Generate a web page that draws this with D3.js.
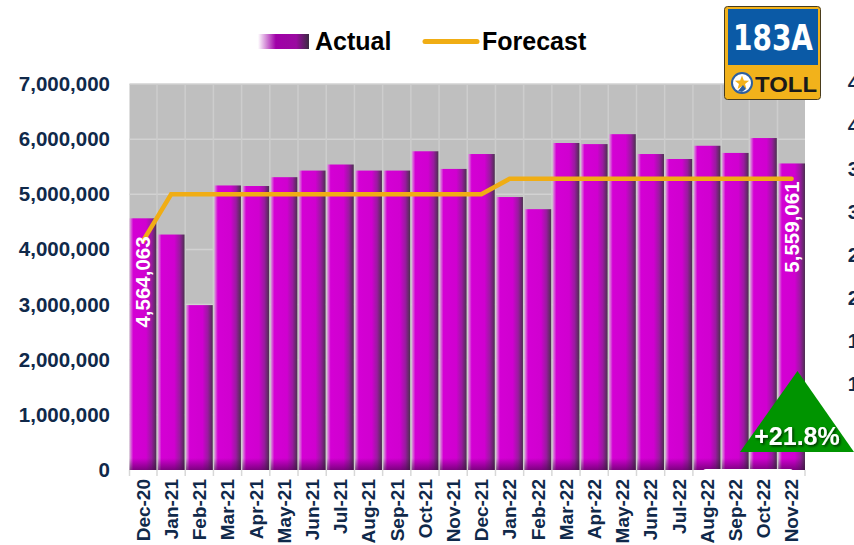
<!DOCTYPE html>
<html>
<head>
<meta charset="utf-8">
<script src="https://cdn.jsdelivr.net/npm/d3@7"></script>
<style>
  html, body { margin: 0; padding: 0; background: #fff; overflow: hidden; }
  svg { display: block; font-family: "Liberation Sans", Arial, sans-serif; }
</style>
</head>
<body>
<svg id="chart" width="854" height="545"></svg>
<script>
// Monthly transactions, 183A Toll
const categories = ["Dec-20","Jan-21","Feb-21","Mar-21","Apr-21","May-21","Jun-21","Jul-21",
  "Aug-21","Sep-21","Oct-21","Nov-21","Dec-21","Jan-22","Feb-22","Mar-22","Apr-22","May-22",
  "Jun-22","Jul-22","Aug-22","Sep-22","Oct-22","Nov-22"];
const actual = [4564063, 4270000, 2990000, 5160000, 5150000, 5310000, 5430000, 5540000,
  5430000, 5430000, 5780000, 5460000, 5730000, 4950000, 4730000, 5930000, 5910000, 6090000,
  5730000, 5640000, 5880000, 5750000, 6020000, 5559061];
const forecast = [4150000, 5000000, 5000000, 5000000, 5000000, 5000000, 5000000, 5000000,
  5000000, 5000000, 5000000, 5000000, 5000000, 5280000, 5280000, 5280000, 5280000, 5280000,
  5280000, 5280000, 5280000, 5280000, 5280000, 5280000];
const leftTicks = [0, 1000000, 2000000, 3000000, 4000000, 5000000, 6000000, 7000000];
const rightTicks = [500000, 1000000, 1500000, 2000000, 2500000, 3000000, 3500000, 4000000, 4500000];
const labelledIdx = [0, 23];
const changeText = "+21.8%";

const navy = "#10294a";
const gold = "#f0ad14";
const svg = d3.select("#chart");
const fmt = d3.format(",");

const plot = { left: 129.5, right: 805, top: 84, bottom: 470 };
const x = d3.scaleBand().domain(categories).range([plot.left, plot.right])
  .paddingInner(0.05).paddingOuter(0.0);
const y = d3.scaleLinear().domain([0, 7000000]).range([plot.bottom, plot.top]);
const y2 = d3.scaleLinear().domain([0, 4500000]).range([plot.bottom, 83]);

// gradients
const defs = svg.append("defs");
const barGrad = defs.append("linearGradient").attr("id", "barGrad")
  .attr("x1", 0).attr("x2", 1).attr("y1", 0).attr("y2", 0);
[["0%", "#d8b0d8"], ["6%", "#d860d8"], ["14%", "#d400d4"], ["62%", "#d000d0"],
 ["82%", "#9a1aa0"], ["100%", "#4c3050"]].forEach(([o, c]) =>
  barGrad.append("stop").attr("offset", o).attr("stop-color", c));
const baseGrad = defs.append("linearGradient").attr("id", "baseGrad")
  .attr("x1", 0).attr("x2", 0).attr("y1", 0).attr("y2", 1);
baseGrad.append("stop").attr("offset", "0%").attr("stop-color", "#3a0040").attr("stop-opacity", 0);
baseGrad.append("stop").attr("offset", "100%").attr("stop-color", "#3a0040").attr("stop-opacity", 0.55);
const legGrad = defs.append("linearGradient").attr("id", "legGrad")
  .attr("x1", 0).attr("x2", 1).attr("y1", 0).attr("y2", 0);
[["0%", "#ffffff"], ["35%", "#a000a8"], ["75%", "#9a0aa0"], ["100%", "#3a2a40"]].forEach(([o, c]) =>
  legGrad.append("stop").attr("offset", o).attr("stop-color", c));
const shadow = defs.append("filter").attr("id", "shadow")
  .attr("x", "-20%").attr("y", "-20%").attr("width", "140%").attr("height", "140%");
shadow.append("feDropShadow").attr("dx", 1.5).attr("dy", 1.5).attr("stdDeviation", 0.8)
  .attr("flood-color", "#000").attr("flood-opacity", 0.7);

// plot background and grid
svg.append("rect").attr("x", plot.left).attr("y", plot.top)
  .attr("width", plot.right - plot.left).attr("height", plot.bottom - plot.top)
  .attr("fill", "#bfbfbf");
svg.append("g").selectAll("line").data(leftTicks.slice(1))
  .join("line")
  .attr("x1", plot.left).attr("x2", plot.right)
  .attr("y1", d => y(d)).attr("y2", d => y(d))
  .attr("stroke", "#d2d2d2").attr("stroke-width", 1.5);
const bounds = categories.map(c => x(c) - x.step() * x.paddingInner() / 2).slice(1);
svg.append("g").selectAll("line").data(bounds)
  .join("line")
  .attr("x1", d => d).attr("x2", d => d)
  .attr("y1", plot.top).attr("y2", plot.bottom)
  .attr("stroke", "#cdcdcd").attr("stroke-width", 1.5);

// category ticks under the plot
svg.append("g").selectAll("line").data([plot.left, ...bounds, plot.right])
  .join("line")
  .attr("x1", d => d).attr("x2", d => d)
  .attr("y1", plot.bottom).attr("y2", plot.bottom + 6)
  .attr("stroke", "#d8d8d8").attr("stroke-width", 1.5);

// bars
const bars = svg.append("g");
bars.selectAll("rect.bar").data(actual).join("rect").attr("class", "bar")
  .attr("x", (d, i) => x(categories[i])).attr("width", x.bandwidth())
  .attr("y", d => y(d)).attr("height", d => plot.bottom - y(d))
  .attr("fill", "url(#barGrad)");
bars.selectAll("rect.base").data(actual).join("rect").attr("class", "base")
  .attr("x", (d, i) => x(categories[i])).attr("width", x.bandwidth())
  .attr("y", plot.bottom - 12).attr("height", 12)
  .attr("fill", "url(#baseGrad)");

// forecast line
const line = d3.line().x((d, i) => x(categories[i]) + x.bandwidth() / 2).y(d => y(d));
svg.append("path").datum(forecast).attr("d", line)
  .attr("fill", "none").attr("stroke", gold).attr("stroke-width", 4.5)
  .attr("stroke-linejoin", "miter").attr("stroke-linecap", "round");

// value labels inside first and last bars
svg.append("g").selectAll("text").data(labelledIdx).join("text")
  .attr("transform", i => `translate(${x(categories[i]) + x.bandwidth() / 2},${y(actual[i]) + 18}) rotate(-90)`)
  .attr("text-anchor", "end").attr("dy", "0.36em")
  .attr("fill", "#fff").attr("font-weight", "bold").attr("font-size", 20.5)
  .text(i => fmt(actual[i]));

// left axis
const yAxis = d3.axisLeft(y).tickValues(leftTicks).tickFormat(fmt).tickSize(0).tickPadding(0);
const gy = svg.append("g").attr("transform", "translate(110,0)").call(yAxis);
gy.select(".domain").remove();
gy.selectAll("text").attr("fill", navy).attr("font-size", 20.5).attr("font-weight", "bold")
  .attr("font-family", "Liberation Sans, Arial, sans-serif");

// right axis (runs past the page edge)
const y2Axis = d3.axisRight(y2).tickValues(rightTicks).tickFormat(fmt).tickSize(0).tickPadding(0);
const gy2 = svg.append("g").attr("transform", "translate(939,0)").call(y2Axis);
gy2.select(".domain").remove();
gy2.selectAll("text").attr("fill", navy).attr("font-size", 20.5).attr("font-weight", "bold")
  .attr("text-anchor", "end")
  .attr("font-family", "Liberation Sans, Arial, sans-serif");

// x axis labels
const xAxis = d3.axisBottom(x).tickSize(0).tickPadding(0);
const gx = svg.append("g").attr("transform", `translate(0,${plot.bottom})`).call(xAxis);
gx.select(".domain").remove();
gx.selectAll("text")
  .attr("transform", "rotate(-90)")
  .attr("x", -9).attr("y", 0).attr("dy", "0.36em")
  .attr("text-anchor", "end")
  .attr("fill", navy).attr("font-size", 19).attr("font-weight", "bold")
  .attr("font-family", "Liberation Sans, Arial, sans-serif");

// white tab along the bottom right
svg.append("rect").attr("x", 703).attr("y", 469).attr("width", 90).attr("height", 9)
  .attr("rx", 3).attr("fill", "#fff");

// change indicator
const tri = svg.append("g");
tri.append("path").attr("d", "M797.5,371 L740,452 L854,452 Z").attr("fill", "#009400");
tri.append("text").attr("x", 797).attr("y", 445).attr("text-anchor", "middle")
  .attr("fill", "#fff").attr("font-weight", "bold").attr("font-size", 25)
  .attr("filter", "url(#shadow)").text(changeText);

// legend
const leg = svg.append("g");
leg.append("rect").attr("x", 258).attr("y", 34).attr("width", 51).attr("height", 15)
  .attr("fill", "url(#legGrad)");
leg.append("text").attr("x", 315).attr("y", 50).attr("font-weight", "bold").attr("font-size", 25)
  .attr("fill", "#000").text("Actual");
leg.append("line").attr("x1", 425).attr("x2", 477).attr("y1", 41.5).attr("y2", 41.5)
  .attr("stroke", gold).attr("stroke-width", 5).attr("stroke-linecap", "round");
leg.append("text").attr("x", 482).attr("y", 50).attr("font-weight", "bold").attr("font-size", 25)
  .attr("fill", "#000").text("Forecast");

// 183A Toll shield
const logo = svg.append("g");
logo.append("rect").attr("x", 724.5).attr("y", 6.5).attr("width", 96).attr("height", 93)
  .attr("rx", 3).attr("fill", "#f2b21b").attr("stroke", "#4a3c1c").attr("stroke-width", 1);
logo.append("rect").attr("x", 728).attr("y", 9).attr("width", 90).attr("height", 56)
  .attr("fill", "#0b5aa6");
logo.append("text").attr("x", 733).attr("y", 50).attr("fill", "#fff")
  .attr("font-family", "Liberation Sans Narrow, DejaVu Sans Condensed, Arial Narrow, sans-serif")
  .attr("font-weight", "bold").attr("font-size", 36)
  .attr("textLength", 80).attr("lengthAdjust", "spacingAndGlyphs").text("183A");
logo.append("circle").attr("cx", 742).attr("cy", 83).attr("r", 10)
  .attr("fill", "#fff").attr("stroke", "#2d5fa0").attr("stroke-width", 2);
const star = d3.range(10).map(k => {
  const a = -Math.PI / 2 + k * Math.PI / 5, r = k % 2 ? 3.2 : 7.5;
  return [742 + r * Math.cos(a), 83 + r * Math.sin(a)];
});
logo.append("path").attr("d", "M" + star.join("L") + "Z").attr("fill", "#f2b21b");
logo.append("path").attr("d", "M738,91 L743,85 L746,89 L742,92 Z").attr("fill", "#2d5fa0");
logo.append("text").attr("x", 755).attr("y", 92).attr("fill", "#1a1a1a")
  .attr("font-weight", "bold").attr("font-size", 22)
  .attr("textLength", 62).attr("lengthAdjust", "spacingAndGlyphs").text("TOLL");
</script>
</body>
</html>
